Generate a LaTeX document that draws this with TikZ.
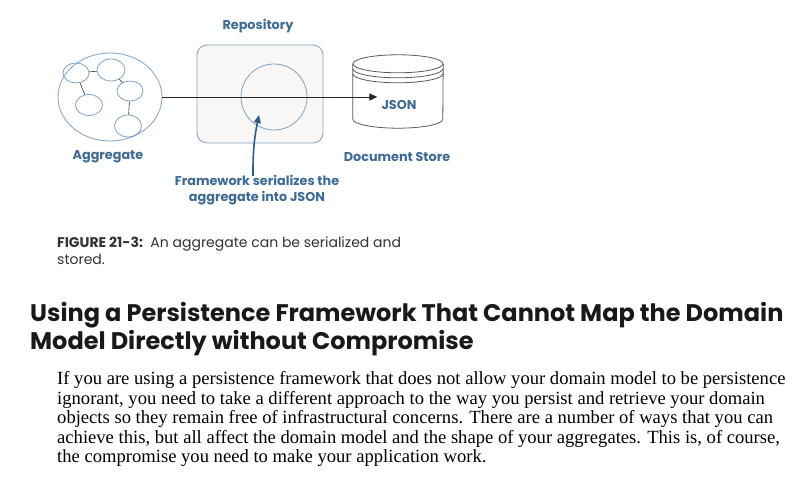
\documentclass[tikz,border=0pt]{standalone}
\usepackage{fontspec}
\setmainfont{Liberation Serif}
\newfontfamily\labelfont{Poppins}
\usetikzlibrary{shapes}
\usetikzlibrary{arrows.meta}

\definecolor{labelblue}{HTML}{3E6A96}
\definecolor{lineblue}{HTML}{7FA2C2}
\definecolor{arrowblue}{HTML}{2D5C8A}
\definecolor{boxfill}{HTML}{F8F7F6}

\begin{document}
\begin{tikzpicture}[x=1pt,y=1pt]
\tikzstyle{label}=[font=\labelfont\bfseries\fontsize{12.8}{16}\selectfont,text=labelblue,inner sep=0pt]

% Define the styles for the aggregate and its objects
\tikzstyle{blob}=[ellipse,draw=lineblue,line width=0.8pt,inner sep=0pt]
\tikzstyle{link}=[draw=black!80,line width=0.6pt]
\tikzstyle{storeline}=[draw=black!65,line width=0.8pt]

% Define the text styles for the page
\tikzstyle{caption}=[anchor=base west,inner sep=0pt,font=\labelfont\fontsize{14}{16}\selectfont,text=black!80]
\tikzstyle{heading}=[anchor=base west,inner sep=0pt,font=\labelfont\bfseries\fontsize{24}{28}\selectfont,text=black!90]
\tikzstyle{body}=[anchor=base west,inner sep=0pt,font=\fontsize{18.6}{20}\selectfont]

\useasboundingbox (0,0) rectangle (800,489);
\fill[white] (0,0) rectangle (800,489);

% define the aggregate
\node (aggregate) [blob,minimum width=104pt,minimum height=88pt] at (110,392) {};
\node (obj1) [blob,minimum width=26pt,minimum height=20pt] at (76,416) {};
\node (obj2) [blob,minimum width=28pt,minimum height=22pt] at (111,419) {};
\node (obj3) [blob,minimum width=26pt,minimum height=20pt] at (130,398) {};
\node (obj4) [blob,minimum width=27pt,minimum height=21pt] at (89,384) {};
\node (obj5) [blob,minimum width=27pt,minimum height=22pt] at (128,363) {};
\draw[link] (obj1) -- (obj2);
\draw[link] (obj1) -- (obj4);
\draw[link] (obj2) -- (obj3);
\draw[link] (obj3) -- (obj5);

% define the repository
\node (repo) [rectangle,rounded corners=10pt,draw=lineblue,fill=boxfill,line width=0.8pt,minimum width=126pt,minimum height=98pt] at (260,395) {};
\node (serial) [circle,draw=lineblue,line width=0.8pt,minimum size=66pt,inner sep=0pt] at (274,392) {};

% define the document store
\node (store) [minimum width=90pt,minimum height=73pt,inner sep=0pt] at (398,397.5) {};
\draw[storeline,fill=white] ([yshift=-9pt]store.north west) -- ([yshift=9pt]store.south west) arc[start angle=180,end angle=360,x radius=45pt,y radius=9pt] -- ([yshift=-9pt]store.north east);
\draw[storeline,fill=white] ([yshift=-9pt]store.north) ellipse [x radius=45pt,y radius=9pt];
\draw[storeline] ([yshift=-14pt]store.north west) arc[start angle=180,end angle=360,x radius=45pt,y radius=9pt];
\draw[storeline] ([yshift=-19pt]store.north west) arc[start angle=180,end angle=360,x radius=45pt,y radius=9pt];
\node (json) [label] at (399,384) {JSON};

% define the labels
\node (agglabel) [label] at (108,332) {Aggregate};
\node (repolabel) [label] at (258,463) {Repository};
\node (storelabel) [label] at (397,332) {Document Store};
\node (framework) [label,align=center] at (257,299) {Framework serializes the\\aggregate into JSON};
\coordinate (target) at (259,374);

% define the arrows
\draw[-{Triangle[length=8pt,width=7pt]},line width=0.9pt,black!85,shorten >=4pt] (aggregate.east) -- (aggregate.east -| json.west);
\draw[-{Triangle[length=8pt,width=7pt]},line width=1.6pt,arrowblue] ([xshift=-4pt,yshift=-1pt]framework.north) to[bend left=6] (target);

% define the caption and the text
\node (caption1) [caption] at (57,241) {\textbf{FIGURE 21-3:}\ \ An aggregate can be serialized and};
\node (caption2) [caption] at (57,224) {stored.};
\node (head1) [heading] at (30,167) {Using a Persistence Framework That Cannot Map the Domain};
\node (head2) [heading] at (30,139) {Model Directly without Compromise};
\node (line1) [body] at (57,104) {If you are using a persistence framework that does not allow your domain model to be persistence};
\node (line2) [body] at (57,84.5) {ignorant, you need to take a different approach to the way you persist and retrieve your domain};
\node (line3) [body] at (57,65) {objects so they remain free of infrastructural concerns. There are a number of ways that you can};
\node (line4) [body] at (57,45.5) {achieve this, but all affect the domain model and the shape of your aggregates. This is, of course,};
\node (line5) [body] at (57,26) {the compromise you need to make your application work.};

\end{tikzpicture}
\end{document}
